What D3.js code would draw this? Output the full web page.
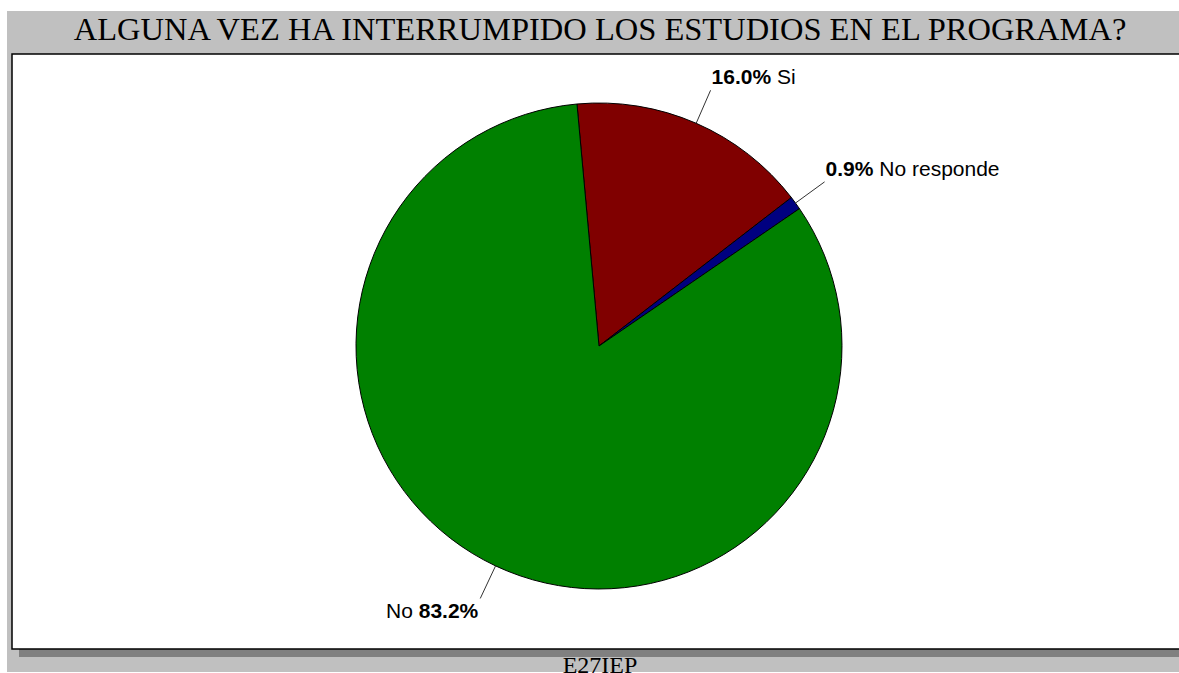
<!DOCTYPE html>
<html>
<head>
<meta charset="utf-8">
<script src="https://cdn.jsdelivr.net/npm/d3@7"></script>
<style>
  html, body { margin: 0; padding: 0; background: #ffffff; }
  svg { display: block; }
</style>
</head>
<body>
<svg id="chart" width="1179" height="673"></svg>
<script>
const categories = ["Si", "No responde", "No"];
const values = [16.0, 0.9, 83.2];
const colors = ["#800000", "#000080", "#008000"];
const titleText = "ALGUNA VEZ HA INTERRUMPIDO LOS ESTUDIOS EN EL PROGRAMA?";
const footerText = "E27IEP";

const W = 1179, H = 673;
const svg = d3.select("#chart");

// outer gray frame
svg.append("rect").attr("x", 7).attr("y", 11).attr("width", W - 7).attr("height", H - 12)
  .attr("fill", "#c0c0c0");

// title
svg.append("text").attr("x", 600).attr("y", 40).attr("text-anchor", "middle")
  .attr("font-family", "'Liberation Serif', 'Times New Roman', serif")
  .attr("font-size", 32.5).attr("fill", "#000").text(titleText);

// panel shadow
svg.append("rect").attr("x", 19).attr("y", 61).attr("width", W).attr("height", 596)
  .attr("fill", "#808080");
// panel
svg.append("rect").attr("x", 12).attr("y", 54).attr("width", W).attr("height", 595)
  .attr("fill", "#ffffff").attr("stroke", "#000").attr("stroke-width", 1.5);

// footer (partly cut by the bottom edge, as in the reference)
svg.append("text").attr("x", 600).attr("y", 673).attr("text-anchor", "middle")
  .attr("font-family", "'Liberation Serif', 'Times New Roman', serif")
  .attr("font-size", 24).attr("fill", "#000").text(footerText);

// pie
const cx = 599, cy = 346, R = 243;
const data = categories.map((c, i) => ({ cat: c, value: values[i], color: colors[i] }));
const startA = -5.2 * Math.PI / 180;
const pie = d3.pie().sort(null).value(d => d.value)
  .startAngle(startA).endAngle(startA + 2 * Math.PI);
const arcs = pie(data);
const arc = d3.arc().innerRadius(0).outerRadius(R);

const g = svg.append("g").attr("transform", `translate(${cx},${cy})`);
g.selectAll("path.slice").data(arcs).enter().append("path")
  .attr("class", "slice")
  .attr("d", arc)
  .attr("fill", d => d.data.color)
  .attr("stroke", "#000").attr("stroke-width", 1);

// labels
const R2 = R + 36;
const fmt = d3.format(".1f");
arcs.forEach(d => {
  const a = (d.startAngle + d.endAngle) / 2;
  const x1 = R * Math.sin(a), y1 = -R * Math.cos(a);
  const x2 = R2 * Math.sin(a), y2 = -R2 * Math.cos(a);
  g.append("line").attr("x1", x1).attr("y1", y1).attr("x2", x2).attr("y2", y2)
    .attr("stroke", "#333").attr("stroke-width", 1);
  const right = x2 >= 0;
  const ty = y2 < 0 ? y2 - 6 : y2 + 20;
  const t = g.append("text")
    .attr("x", right ? x2 + 1 : x2 - 2).attr("y", ty)
    .attr("text-anchor", right ? "start" : "end")
    .attr("font-family", "'Liberation Sans', Arial, sans-serif")
    .attr("font-size", 21).attr("fill", "#000");
  const pct = fmt(d.data.value) + "%";
  if (right) {
    t.append("tspan").attr("font-weight", "bold").text(pct);
    t.append("tspan").text(" " + d.data.cat);
  } else {
    t.append("tspan").text(d.data.cat + " ");
    t.append("tspan").attr("font-weight", "bold").text(pct);
  }
});
</script>
</body>
</html>
